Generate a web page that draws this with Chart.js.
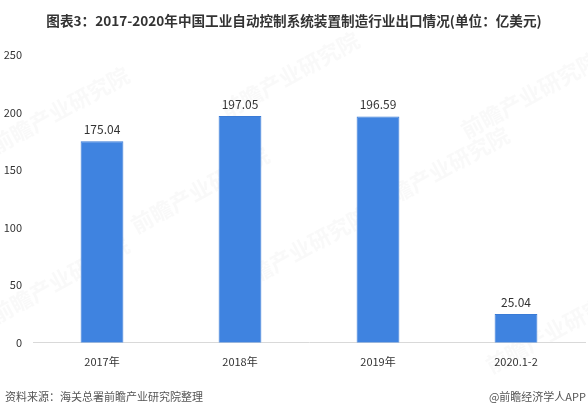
<!DOCTYPE html>
<html>
<head>
<meta charset="utf-8">
<script src="https://cdn.jsdelivr.net/npm/chart.js@4/dist/chart.umd.min.js"></script>
<style>
  html, body { margin: 0; padding: 0; background: #fff; }
  #wrap { position: relative; width: 588px; height: 412px; overflow: hidden; }
  #title { position: absolute; left: 0; top: 10px; width: 588px; text-align: center;
    font: bold 13.6px "Noto Sans CJK SC", sans-serif; color: #333; }
  #source { position: absolute; left: 5px; top: 388px; font: 11px "Noto Sans CJK SC", sans-serif; color: #555; }
  #brand { position: absolute; right: 2px; top: 388px; font: 11px "Noto Sans CJK SC", sans-serif; color: #555; }
  canvas { position: absolute; left: 0; top: 0; }
</style>
</head>
<body>
<div id="wrap">
  <canvas id="c" width="588" height="412"></canvas>
  <div id="title">图表3：2017-2020年中国工业自动控制系统装置制造行业出口情况(单位：亿美元)</div>
  <div id="source">资料来源：海关总署前瞻产业研究院整理</div>
  <div id="brand">@前瞻经济学人APP</div>
</div>
<script>
const categories = ['2017年', '2018年', '2019年', '2020.1-2'];
const exportValues = [175.04, 197.05, 196.59, 25.04];
const yTicks = [0, 50, 100, 150, 200, 250];

const valueLabels = {
  id: 'valueLabels',
  afterDatasetsDraw(chart) {
    const ctx = chart.ctx;
    const meta = chart.getDatasetMeta(0);
    ctx.save();
    ctx.font = '12px "Noto Sans CJK SC", sans-serif';
    ctx.fillStyle = '#333';
    ctx.textAlign = 'center';
    ctx.textBaseline = 'bottom';
    meta.data.forEach((bar, i) => {
      ctx.fillText(exportValues[i].toFixed(2), bar.x, bar.y - 6);
    });
    ctx.restore();
  }
};

// faint diagonal brand marks in the background
const backgroundMarks = {
  id: 'backgroundMarks',
  beforeDraw(chart) {
    const ctx = chart.ctx;
    const spots = [[60, 110], [290, 75], [530, 95], [60, 280], [300, 250], [555, 330], [200, 190], [440, 170]];
    ctx.save();
    ctx.font = 'bold 22px "Noto Sans CJK SC", sans-serif';
    ctx.fillStyle = 'rgba(180,180,180,0.08)';
    ctx.textAlign = 'center';
    ctx.textBaseline = 'middle';
    spots.forEach(([x, y]) => {
      ctx.save();
      ctx.translate(x, y);
      ctx.rotate(-0.5);
      ctx.fillText('前瞻产业研究院', 0, 0);
      ctx.restore();
    });
    ctx.restore();
  }
};

new Chart(document.getElementById('c'), {
  type: 'bar',
  data: {
    labels: categories,
    datasets: [{
      data: exportValues,
      backgroundColor: '#3f83e0',
      borderColor: '#3a7bd6',
      borderWidth: 1,
      categoryPercentage: 1,
      barPercentage: 0.31
    }]
  },
  options: {
    responsive: false,
    animation: false,
    layout: { padding: { top: 55, right: 3, bottom: 32, left: 2 } },
    plugins: { legend: { display: false }, tooltip: { enabled: false } },
    scales: {
      x: {
        grid: { display: false, drawTicks: false },
        border: { display: true, color: '#d9d9d9', width: 1 },
        ticks: { color: '#333', font: { size: 11, family: '"Noto Sans CJK SC", sans-serif' }, padding: 12 }
      },
      y: {
        min: 0, max: 250,
        afterBuildTicks(axis) { axis.ticks = yTicks.map(v => ({ value: v })); },
        afterFit(axis) { axis.width = 31; },
        grid: { display: false, drawTicks: false },
        border: { display: false },
        ticks: { color: '#333', font: { size: 11, family: '"Noto Sans CJK SC", sans-serif' }, padding: 11 }
      }
    }
  },
  plugins: [backgroundMarks, valueLabels]
});
</script>
</body>
</html>
